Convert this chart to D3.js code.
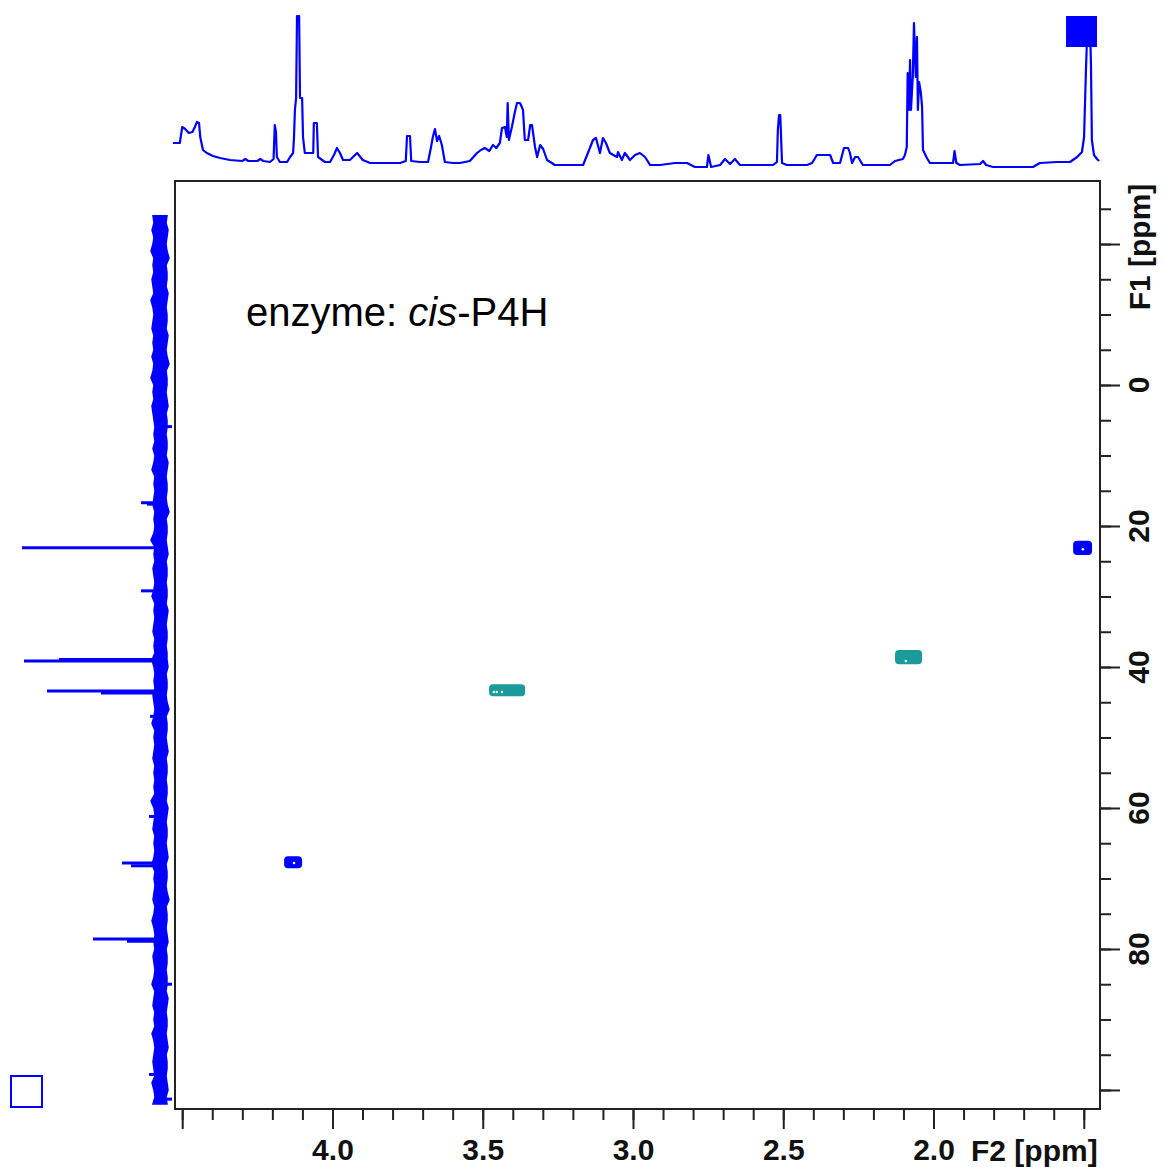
<!DOCTYPE html>
<html>
<head>
<meta charset="utf-8">
<script src="https://cdn.jsdelivr.net/npm/d3@7"></script>
<style>
  body { margin: 0; background: #fff; }
  svg { display: block; font-family: "Liberation Sans", Arial, Helvetica, sans-serif; }
</style>
</head>
<body>
<div id="plot"></div>
<script>
// F2 (1H) projection on top: [ppm, intensity]
const f2Trace = [
  [4.531,24],[4.508,24],[4.500,40],[4.490,38],[4.478,34],[4.466,35],[4.458,40],[4.451,45],[4.444,44],[4.440,30],
  [4.431,17],[4.418,14],[4.398,11],[4.374,9],[4.341,7],[4.300,6],[4.290,8],[4.280,6],[4.250,6],[4.240,8],
  [4.230,6],[4.208,5],[4.196,8],[4.192,42],[4.188,35],[4.185,10],[4.175,5],[4.151,5],[4.141,10],[4.131,14],
  [4.128,30],[4.125,57],[4.121,69],[4.118,151],[4.111,151],[4.108,69],[4.101,69],[4.098,30],[4.092,14],[4.075,14],
  [4.064,14],[4.062,44],[4.052,44],[4.048,10],[4.025,5],[4.008,5],[3.995,12],[3.985,19],[3.975,14],[3.965,7],
  [3.942,7],[3.918,14],[3.899,7],[3.875,4],[3.800,4],[3.775,4],[3.756,6],[3.752,31],[3.742,31],[3.738,6],
  [3.709,5],[3.682,5],[3.672,20],[3.666,30],[3.659,38],[3.652,26],[3.645,31],[3.636,22],[3.626,5],[3.599,4],
  [3.576,4],[3.543,6],[3.519,14],[3.506,17],[3.493,19],[3.478,16],[3.466,22],[3.455,19],[3.443,24],[3.436,39],
  [3.426,40],[3.420,30],[3.417,64],[3.413,27],[3.403,40],[3.393,55],[3.386,64],[3.376,64],[3.370,60],[3.366,57],
  [3.360,27],[3.349,27],[3.342,42],[3.336,42],[3.326,20],[3.319,10],[3.309,22],[3.299,18],[3.286,7],[3.270,4],
  [3.260,2],[3.166,2],[3.150,14],[3.133,27],[3.123,29],[3.110,14],[3.100,29],[3.090,24],[3.077,14],[3.053,10],
  [3.050,15],[3.037,7],[3.027,14],[3.010,7],[2.993,12],[2.977,14],[2.960,10],[2.943,2],[2.910,2],[2.860,4],
  [2.820,4],[2.794,0],[2.754,0],[2.749,12],[2.740,0],[2.710,2],[2.694,8],[2.677,3],[2.661,8],[2.644,2],
  [2.534,2],[2.521,5],[2.518,37],[2.514,52],[2.510,52],[2.504,4],[2.488,2],[2.421,2],[2.404,4],[2.388,12],
  [2.344,12],[2.334,4],[2.311,4],[2.298,19],[2.284,19],[2.278,14],[2.271,4],[2.261,10],[2.251,10],[2.235,2],
  [2.145,2],[2.128,6],[2.102,8],[2.095,12],[2.089,20],[2.086,94],[2.082,57],[2.078,107],[2.075,57],[2.069,90],
  [2.065,144],[2.059,90],[2.055,130],[2.052,57],[2.048,85],[2.042,74],[2.038,60],[2.035,17],[2.022,9],[2.012,4],
  [1.978,4],[1.935,4],[1.930,16],[1.924,4],[1.912,2],[1.845,3],[1.835,6],[1.825,2],[1.802,0],[1.669,0],
  [1.646,4],[1.589,5],[1.546,5],[1.522,10],[1.506,15],[1.499,30],[1.493,94],[1.487,150],[1.480,150],[1.476,102],
  [1.473,27],[1.466,12],[1.456,8],[1.449,6]
];

// F1 (13C) projection on the left: noise band edges, one value per ppm from -24
const f1NoiseStart = -24;
const f1NoiseHigh = [
  13,12,14,12,13,15,12,13,12,14, 13,12,15,13,12,13,14,12,13,12,
  14,12,13,15,12,13,12,14,13,12, 11,12,11,13,11,12,14,11,12,11,
  12,13,11,12,11,12,15,11,12,11, 13,12,11,12,14,11,12,11,12,13,
  11,12,11,14,12,11,12,11,13,12, 11,12,14,11,12,11,12,13,11,12,
  11,12,11,15,12,11,12,13,11,12, 11,12,14,11,12,11,12,13,11,12,
  14,12,11,12,11,13,12,11,12,14, 11,12,13,11,12,11,14,12,11,12,
  13,12,11,14,12,11,13
];
const f1NoiseLow = [
  -1,0,-2,-1,0,-1,-3,0,-1,-1, 0,-2,-1,0,-1,-1,0,-2,-1,0,
  -1,-3,0,-1,-1,0,-1,-2,0,-1, -1,0,-1,-1,0,-2,-1,0,-1,-1,
  0,-1,-3,0,-1,-1,0,-1,-2,0, -1,-1,0,-1,-1,0,-2,-1,0,-1,
  -1,0,-1,-1,-2,0,-1,-1,0,-1, -3,0,-1,-1,0,-1,-2,0,-1,-1,
  0,-1,-1,0,-2,-1,0,-1,-1,0, -1,-2,0,-1,-1,0,-1,-3,0,-1,
  -1,0,-1,-2,0,-1,-1,0,-1,-1, 0,-2,-1,0,-1,-1,0,-1,-2,0,
  -1,-1,0,-1,-2,0,-1
];
// F1 projection lines
const f1PeakPpm    = [5.9, 16.7, 16.9, 23.1, 29.2, 38.95, 39.15, 43.4, 43.7, 47.0, 61.2, 67.8, 68.2, 78.6, 78.9, 85.0, 97.8, 101.3];
const f1PeakHeight = [-6,  25,   19,   144,  25,   107,   142,   119,  65,   16,   17,   44,   35,   73,   39,   -6,   17,   -6];

// 2D cross peaks (positive blue, negative teal)
const crossF2     = [4.131, 3.419, 2.083, 1.504];
const crossF1     = [67.7, 43.3, 38.6, 23.1];
const crossWidth  = [0.06, 0.12, 0.09, 0.063];
const crossHeight = [1.7, 1.7, 2.0, 2.0];
const crossSign   = [1, -1, -1, 1];
const holeF2 = [4.128, 3.463, 3.453, 3.436, 2.092, 1.503];
const holeF1 = [67.8, 43.55, 43.55, 43.55, 39.15, 23.3];

const f2Ticks = [4.5, 4.0, 3.5, 3.0, 2.5, 2.0, 1.5];
const f2TickLabels = [4.0, 3.5, 3.0, 2.5, 2.0];
const f1Ticks = [-20, 0, 20, 40, 60, 80, 100];
const f1TickLabels = [0, 20, 40, 60, 80];

const width = 1162, height = 1167;
const box = {left: 175, right: 1100, top: 181, bottom: 1109};
const blue = "#0000ff", teal = "#1a9a9a", ink = "#222";

const svg = d3.select("#plot")
  .append("svg")
  .attr("width", width)
  .attr("height", height);

const x = d3.scaleLinear().domain([4.524, 1.446]).range([box.left, box.right]);
const y = d3.scaleLinear().domain([-28.94, 102.7]).range([box.top, box.bottom]);
const topY = d3.scaleLinear().domain([0, 150]).range([167, 17]);
const leftX = d3.scaleLinear().domain([0, 145]).range([166, 21]);

// top projection
svg.append("path")
  .datum(f2Trace)
  .attr("fill", "none")
  .attr("stroke", blue)
  .attr("stroke-width", 2.2)
  .attr("stroke-linejoin", "round")
  .attr("d", d3.line().x(d => x(d[0])).y(d => topY(d[1])));

// left projection: noise band
const band = f1NoiseHigh.map((h, i) => ({ppm: f1NoiseStart + i, hi: h, lo: f1NoiseLow[i]}));
svg.append("path")
  .datum(band)
  .attr("fill", blue)
  .attr("stroke", blue)
  .attr("stroke-width", 1.5)
  .attr("stroke-linejoin", "miter")
  .attr("d", d3.area()
    .y(d => y(d.ppm))
    .x0(d => leftX(d.lo))
    .x1(d => leftX(d.hi)));

// left projection: peak lines
svg.append("g")
  .selectAll("line")
  .data(f1PeakPpm)
  .join("line")
  .attr("x1", leftX(5))
  .attr("x2", (d, i) => leftX(f1PeakHeight[i]))
  .attr("y1", d => y(d))
  .attr("y2", d => y(d))
  .attr("stroke", blue)
  .attr("stroke-width", 3);

// cross peaks
svg.append("g")
  .selectAll("rect")
  .data(crossF2)
  .join("rect")
  .attr("x", (d, i) => x(d + crossWidth[i] / 2))
  .attr("y", (d, i) => y(crossF1[i] - crossHeight[i] / 2))
  .attr("width", (d, i) => x(d - crossWidth[i] / 2) - x(d + crossWidth[i] / 2))
  .attr("height", (d, i) => y(crossF1[i] + crossHeight[i] / 2) - y(crossF1[i] - crossHeight[i] / 2))
  .attr("rx", 4)
  .attr("fill", (d, i) => crossSign[i] > 0 ? blue : teal);

svg.append("g")
  .selectAll("circle")
  .data(holeF2)
  .join("circle")
  .attr("cx", d => x(d))
  .attr("cy", (d, i) => y(holeF1[i]))
  .attr("r", 1.3)
  .attr("fill", "#fff");

// frame
svg.append("rect")
  .attr("x", box.left)
  .attr("y", box.top)
  .attr("width", box.right - box.left)
  .attr("height", box.bottom - box.top)
  .attr("fill", "none")
  .attr("stroke", ink)
  .attr("stroke-width", 2);

// bottom axis
const fmt = d3.format(".1f");
const gx1 = svg.append("g")
  .attr("transform", `translate(0, ${box.bottom})`)
  .call(d3.axisBottom(x).tickValues(d3.range(15, 46).map(d => d / 10)).tickSize(11).tickFormat(""));
const gx2 = svg.append("g")
  .attr("transform", `translate(0, ${box.bottom})`)
  .call(d3.axisBottom(x).tickValues(f2Ticks).tickSize(20).tickPadding(10)
    .tickFormat(d => f2TickLabels.includes(d) ? fmt(d) : ""));

// right axis
const gy1 = svg.append("g")
  .attr("transform", `translate(${box.right}, 0)`)
  .call(d3.axisRight(y).tickValues(d3.range(-25, 101, 5)).tickSize(11).tickFormat(""));
const gy2 = svg.append("g")
  .attr("transform", `translate(${box.right}, 0)`)
  .call(d3.axisRight(y).tickValues(f1Ticks).tickSize(20).tickFormat(""));

[gx1, gx2, gy1, gy2].forEach(g => {
  g.select(".domain").remove();
  g.selectAll(".tick line").attr("stroke", ink).attr("stroke-width", 2);
  g.attr("font-size", 30).attr("font-weight", "bold")
    .attr("font-family", '"Liberation Sans", Arial, sans-serif');
  g.selectAll("text").attr("fill", "#111");
});

svg.append("g")
  .selectAll("text")
  .data(f1TickLabels)
  .join("text")
  .attr("transform", d => `translate(1138, ${y(d)}) rotate(-90)`)
  .attr("text-anchor", "middle")
  .attr("dy", "0.36em")
  .attr("font-size", 30)
  .attr("font-weight", "bold")
  .attr("fill", "#111")
  .text(d => d);

svg.append("text")
  .attr("transform", "translate(1139, 247) rotate(-90)")
  .attr("text-anchor", "middle")
  .attr("dy", "0.36em")
  .attr("font-size", 30)
  .attr("font-weight", "bold")
  .attr("fill", "#111")
  .text("F1 [ppm]");

svg.append("text")
  .attr("x", 971)
  .attr("y", 1161)
  .attr("font-size", 30)
  .attr("font-weight", "bold")
  .attr("fill", "#111")
  .text("F2 [ppm]");

// annotation
const note = svg.append("text")
  .attr("x", 246)
  .attr("y", 326)
  .attr("font-size", 40)
  .attr("fill", "#000");
note.append("tspan").text("enzyme: ");
note.append("tspan").attr("font-style", "italic").text("cis");
note.append("tspan").text("-P4H");

// projection markers
svg.append("rect")
  .attr("x", 1066).attr("y", 16)
  .attr("width", 31).attr("height", 31)
  .attr("fill", blue);
svg.append("rect")
  .attr("x", 11).attr("y", 1076)
  .attr("width", 31).attr("height", 31)
  .attr("fill", "none")
  .attr("stroke", blue)
  .attr("stroke-width", 2);
</script>
</body>
</html>
